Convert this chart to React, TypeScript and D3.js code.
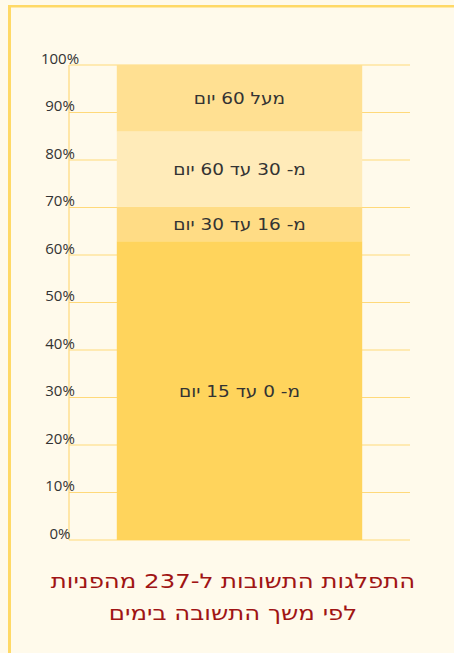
import React from 'react';
import * as d3 from 'd3';

// response time buckets, bottom to top
const buckets = ['מ- 0 עד 15 יום', 'מ- 16 עד 30 יום', 'מ- 30 עד 60 יום', 'מעל 60 יום'];
const shares = [62.9, 7.3, 15.8, 14.0];
const bucketColors = ['#ffd45c', '#ffdc85', '#ffebb9', '#ffe092'];
const ticks = [0, 10, 20, 30, 40, 50, 60, 70, 80, 90, 100];
const titleLines = ['התפלגות התשובות ל-237 מהפניות', 'לפי משך התשובה בימים'];

const W = 454;
const H = 653;
const tickFont = '"Open Sans", sans-serif';
const hebFont = '"DejaVu Sans", sans-serif'; // widest hebrew we have

const App = () => {
  const left = 69;
  const right = 410;
  const top = 65;
  const bottom = 540;

  const x = d3.scaleBand<string>().domain(['all']).range([left, right]).padding(0.163);
  const y = d3.scaleLinear().domain([0, 100]).range([bottom, top]);

  const stack = d3.stack<number[]>().keys(buckets.map((_, i) => String(i)))
    .value((d, k) => d[+k]);
  const series = stack([shares]);
  const cx = (x('all') as number) + x.bandwidth() / 2;

  return (
    <div style={{ position: 'fixed', left: 0, top: 0 }}>
      <svg width={W} height={H} style={{ display: 'block' }}>
        <rect x={0} y={0} width={W} height={H} fill="#fffaeb" />
        <rect x={8} y={5} width={W - 8} height={2.5} fill="#ffd966" />
        <rect x={8} y={5} width={3} height={H - 5} fill="#ffd966" />

        {ticks.map(t => (
          <line key={'g' + t} x1={left} x2={right} y1={y(t)} y2={y(t)}
            stroke="#ffd97a" strokeWidth={1.2} />
        ))}
        <line x1={left} x2={left} y1={top} y2={bottom} stroke="#ffd97a" strokeWidth={1.2} />

        {series.map((s, i) => {
          const d = s[0];
          return (
            <rect key={'b' + i} x={x('all')} width={x.bandwidth()}
              y={y(d[1])} height={y(d[0]) - y(d[1])} fill={bucketColors[i]} />
          );
        })}

        {series.map((s, i) => {
          const d = s[0];
          const cy = (y(d[0]) + y(d[1])) / 2;
          return (
            <text key={'l' + i} transform={`translate(${cx},${cy}) scale(1.12,1)`}
              dy="0.36em" textAnchor="middle" direction="rtl"
              fontFamily={hebFont} fontSize={16.5} fill="#333">
              {buckets[i]}
            </text>
          );
        })}

        {ticks.map(t => (
          <text key={'t' + t} x={60} y={y(t) - 1.5} textAnchor="middle"
            fontFamily={tickFont} fontSize={15} fill="#333">
            {t}%
          </text>
        ))}

        {titleLines.map((line, i) => (
          <text key={'h' + i} transform={`translate(233,${588 + i * 32}) scale(1.22,1)`}
            textAnchor="middle" direction="rtl"
            fontFamily={hebFont} fontSize={20} fill="#a01414">
            {line}
          </text>
        ))}
      </svg>
    </div>
  );
};

export default App;
